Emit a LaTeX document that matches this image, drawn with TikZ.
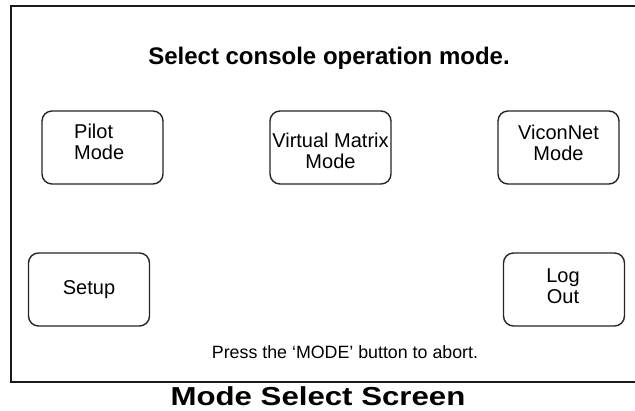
\documentclass[tikz,border=0pt]{standalone}
\usepackage{fontspec}
\setmainfont{Liberation Sans}
\begin{document}
\begin{tikzpicture}[x=1pt,y=-1pt,
  btn/.style={draw=black!85, line width=1.4pt, rounded corners=10pt, minimum width=121pt, minimum height=73pt, inner sep=0pt},
  btntext/.style={font=\fontsize{20}{21}\selectfont, inner sep=0pt},
  frame/.style={draw=black!90, line width=2pt}]
\useasboundingbox (0,0) rectangle (635,411);
\fill[white] (0,0) rectangle (635,411);
\draw[frame] (640,6) -- (11,6) -- (11,382) -- (640,382);
\node[font=\bfseries\fontsize{24}{26}\selectfont] (title) at (329,58) {Select console operation mode.};
\node[btn] (pilot) at (102.5,147.5) {};
\node[btn] (vm) at (330.5,147.5) {};
\node[btn] (vicon) at (558.5,147.5) {};
\node[btn] (setup) at (89,289.5) {};
\node[btn] (logout) at (564,289.5) {};
\node[btntext, align=left, anchor=west] (pilott) at (74,141.5) {Pilot\\Mode};
\node[btntext, align=center] (vmt) at (330.5,150.5) {Virtual Matrix\\Mode};
\node[btntext, align=center] (vicont) at (558.5,142.5) {ViconNet\\Mode};
\node[btntext] (setupt) at (89,290) {Setup};
\node[btntext, align=center] (logoutt) at (563,286) {Log\\Out};
\node[font=\fontsize{17.8}{20}\selectfont] (press) at (345,352) {Press the ‘MODE’ button to abort.};
\node[font=\bfseries\fontsize{26}{28}\selectfont, xscale=1.2, inner sep=0pt] (caption) at (318,396) {Mode Select Screen};
\end{tikzpicture}
\end{document}
